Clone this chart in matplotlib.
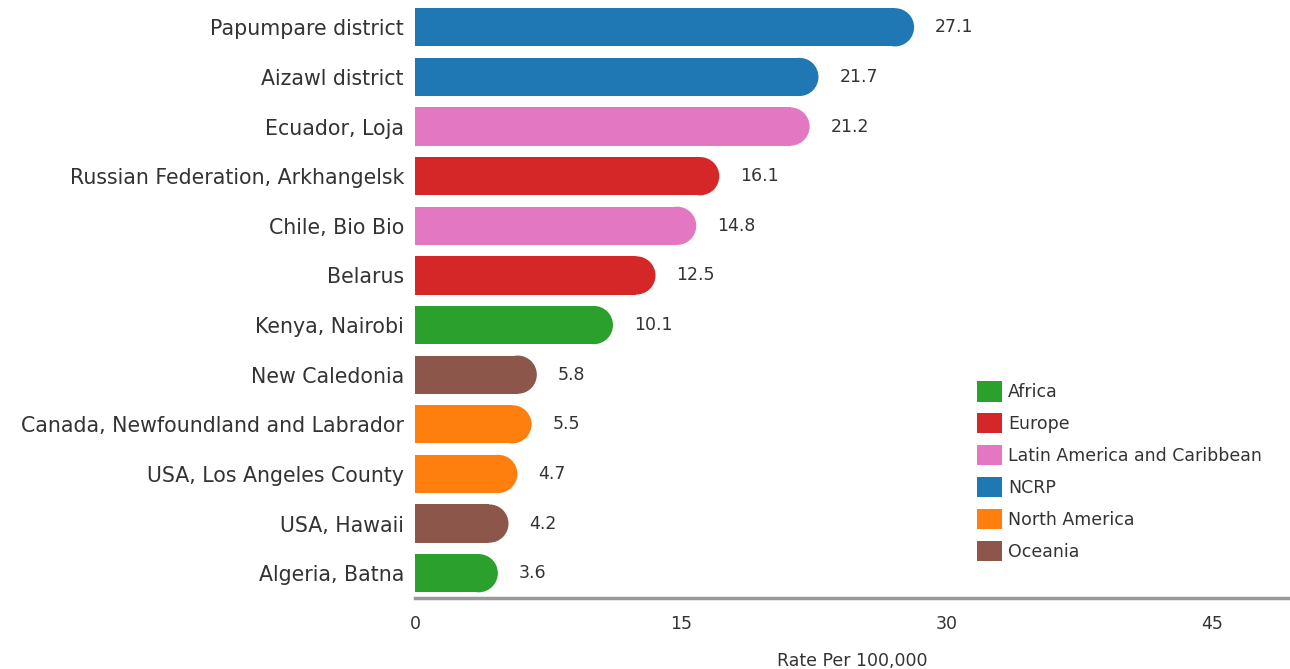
import matplotlib
matplotlib.use("Agg")
import matplotlib.pyplot as plt
from matplotlib.patches import Ellipse, Patch

categories = ["Papumpare district", "Aizawl district", "Ecuador, Loja",
              "Russian Federation, Arkhangelsk", "Chile, Bio Bio", "Belarus",
              "Kenya, Nairobi", "New Caledonia", "Canada, Newfoundland and Labrador",
              "USA, Los Angeles County", "USA, Hawaii", "Algeria, Batna"]
values = [27.1, 21.7, 21.2, 16.1, 14.8, 12.5, 10.1, 5.8, 5.5, 4.7, 4.2, 3.6]
regions = ["NCRP", "NCRP", "Latin America and Caribbean", "Europe",
           "Latin America and Caribbean", "Europe", "Africa", "Oceania",
           "North America", "North America", "Oceania", "Africa"]
legend_order = ["Africa", "Europe", "Latin America and Caribbean", "NCRP",
                "North America", "Oceania"]
region_colors = {"Africa": "#2ca02c", "Europe": "#d62728",
                 "Latin America and Caribbean": "#e377c2", "NCRP": "#1f77b4",
                 "North America": "#ff7f0e", "Oceania": "#8c564b"}
xticks = [0, 15, 30, 45]

plt.rcParams['font.family'] = ['DejaVu Sans']
TXT = "#333333"

fig = plt.figure(figsize=(12.9, 6.69), dpi=100)
ax = fig.add_axes([415/1290, 1 - 598/669, 875/1290, 598/669])
n = len(categories)
ys = list(range(n))
ax.set_xlim(0, 49.4)
ax.set_ylim(n - 0.5, -0.55)

bh = 0.77
cols = [region_colors[r] for r in regions]
ax.barh(ys, values, height=bh, color=cols, linewidth=0)

# rounded caps: compute x-units per pixel
fig.canvas.draw()
p0 = ax.transData.transform((0, 0))
p1 = ax.transData.transform((1, 1))
px_x = abs(p1[0] - p0[0])
px_y = abs(p1[1] - p0[1])
r_px = bh * px_y / 2
rx = r_px / px_x
for y, v, c in zip(ys, values, cols):
    ax.add_patch(Ellipse((v, y), 2 * rx, bh, color=c, linewidth=0))
    ax.text(v + rx + 21 / px_x, y, f"{v}", va="center", ha="left",
            fontsize=12.5, color=TXT)

ax.set_yticks(ys)
ax.set_yticklabels(categories, fontsize=14.8, color=TXT)
ax.set_xticks(xticks)
ax.set_xticklabels([str(t) for t in xticks], fontsize=12.5, color=TXT)
ax.tick_params(axis="both", length=0)
ax.tick_params(axis="y", pad=8)
ax.tick_params(axis="x", pad=12)
for s in ["top", "right", "left"]:
    ax.spines[s].set_visible(False)
ax.spines["bottom"].set_color("#9a9a9a")
ax.spines["bottom"].set_linewidth(2.5)
ax.set_xlabel("Rate Per 100,000", fontsize=12.5, color=TXT, labelpad=14)

handles = [Patch(facecolor=region_colors[r], edgecolor="none", label=r) for r in legend_order]
leg = ax.legend(handles=handles, loc="upper left", bbox_to_anchor=(977/1290, 1 - 381/669),
                bbox_transform=fig.transFigure, frameon=False, fontsize=12.5,
                handlelength=1.44, handleheight=1.44, labelspacing=0.66,
                handletextpad=0.35, borderaxespad=0, borderpad=0)
for t in leg.get_texts():
    t.set_color(TXT)

fig.savefig("out.png", dpi=100)
